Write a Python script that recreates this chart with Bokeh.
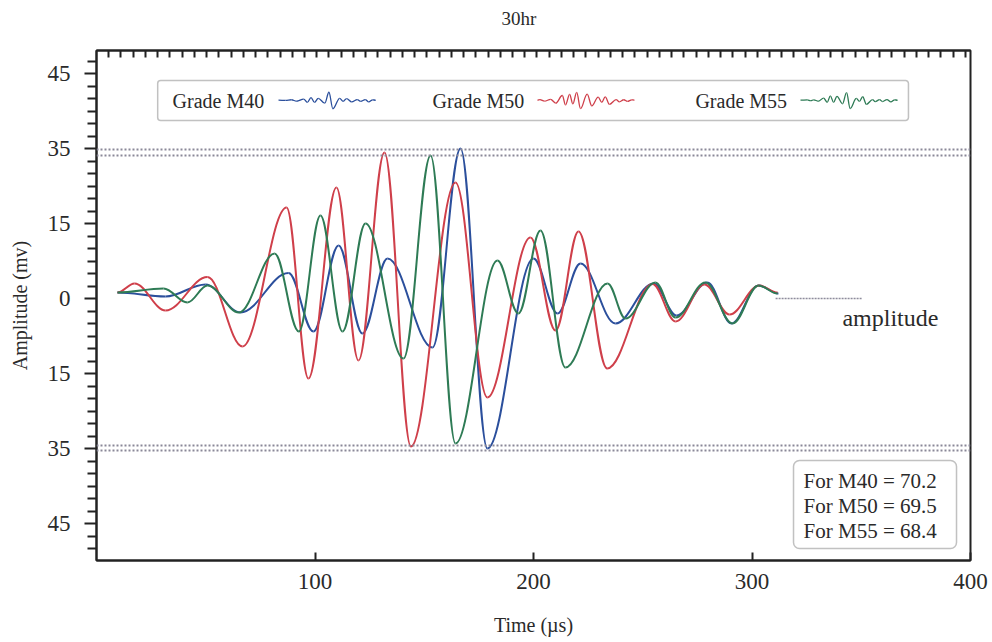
import numpy as np
from bokeh.plotting import figure
from bokeh.models import Range1d, LinearAxis, FixedTicker, Span, BoxAnnotation, Label
from bokeh.embed import file_html
from bokeh.resources import INLINE

# ---- data (time in µs, amplitude in axis units) ----
time_m40 = [9.6, 31.6, 49.9, 65.9, 87.9, 99.3, 110.8, 121.7, 133.2, 153.8, 166.6, 178.9,
            200.0, 211.0, 221.5, 237.5, 254.9, 265.4, 279.6, 290.6, 303.0, 312.1]
amp_m40 = [1.2, 0.4, 2.8, -2.8, 5.1, -6.6, 10.6, -7.0, 8.0, -9.8, 30.0, -30.0,
           8.0, -3.0, 7.0, -5.0, 3.0, -3.4, 3.2, -5.0, 2.6, 1.0]

time_m50 = [9.6, 17.4, 31.6, 50.8, 66.8, 87.0, 97.0, 109.8, 119.9, 131.8, 143.9, 164.3,
            178.9, 198.6, 210.1, 220.6, 233.7, 254.5, 265.0, 278.3, 289.7, 303.4, 311.7]
amp_m50 = [1.2, 3.0, -2.4, 4.3, -9.6, 18.2, -16.0, 22.2, -12.4, 29.2, -29.6, 23.2,
           -19.8, 12.2, -6.4, 13.4, -14.0, 2.9, -4.6, 2.8, -3.2, 2.6, 1.2]

time_m55 = [9.6, 30.7, 41.6, 50.8, 65.2, 81.5, 92.6, 102.5, 112.6, 123.1, 140.5, 152.9,
            164.3, 183.5, 193.1, 203.2, 214.6, 233.9, 242.1, 255.8, 265.0, 278.7, 291.1,
            303.0, 311.7]
amp_m55 = [1.2, 2.0, -0.8, 2.6, -2.8, 9.0, -6.6, 16.6, -6.6, 15.0, -12.0, 28.6,
           -29.0, 7.6, -3.0, 13.6, -13.8, 3.0, -4.0, 3.2, -3.8, 3.2, -5.0, 2.6, 1.0]

series_names = ["Grade M40", "Grade M50", "Grade M55"]
series_grades = ["M40", "M50", "M55"]
amplitude_values = [70.2, 69.5, 68.4]

y_tick_values = [-45, -30, -15, 0, 15, 30, 45]
y_tick_labels = ["45", "35", "15", "0", "15", "35", "45"]
x_tick_values = [100, 200, 300, 400]
threshold_levels = [29.8, 28.6, -29.4, -30.4]
chart_title = "30hr"

# ---- styling ----
FONT = "Liberation Serif"
TXT = "#2a2a2a"
colors = ["#2b4f9c", "#cf3f4a", "#2e7b55"]


def bez(xs, ys, sx=1.0, sy=1.0, ox=0.0, oy=0.0):
    x = np.asarray(xs, dtype=float) * sx + ox
    y = np.asarray(ys, dtype=float) * sy + oy
    x0, x1 = x[:-1], x[1:]
    y0, y1 = y[:-1], y[1:]
    d = (x1 - x0) * 0.364
    return dict(x0=x0, y0=y0, x1=x1, y1=y1, cx0=x0 + d, cy0=y0, cx1=x1 - d, cy1=y1)


p = figure(width=992, height=642, output_backend="svg", toolbar_location=None,
           x_range=Range1d(0, 400), y_range=Range1d(-52.4, 49.6),
           min_border_left=96, min_border_right=22, min_border_top=50,
           min_border_bottom=82, x_axis_location=None, y_axis_location=None)
p.grid.visible = False
p.outline_line_color = "#222222"
p.outline_line_width = 2
p.background_fill_color = "white"
p.border_fill_color = "white"

p.title.text = chart_title + "\n"
p.title.align = "left"
p.title.offset = 405
p.title.text_font = FONT
p.title.text_font_style = "normal"
p.title.text_font_size = "19px"
p.title.text_color = TXT
p.title.standoff = 2

# left axis
minor_y = [v for v in np.arange(-52.5, 50.0, 2.5) if v not in y_tick_values]
yax = LinearAxis(ticker=FixedTicker(ticks=y_tick_values, minor_ticks=minor_y))
yax.major_label_overrides = {v: l for v, l in zip(y_tick_values, y_tick_labels)}
yax.axis_label = "Amplitude (mv)"
yax.major_tick_out = 12
yax.major_tick_in = 0
yax.minor_tick_out = 9
yax.minor_tick_in = 0
yax.major_tick_line_width = 2
yax.minor_tick_line_width = 2
yax.minor_tick_line_color = "#222222"
p.add_layout(yax, "left")

# bottom axis
xax = LinearAxis(ticker=FixedTicker(ticks=x_tick_values, minor_ticks=[]))
xax.axis_label = "Time (µs)"
xax.major_tick_in = 8
xax.major_tick_out = 0
xax.minor_tick_line_color = None
xax.major_tick_line_width = 2
p.add_layout(xax, "below")

for ax in [yax, xax]:
    ax.axis_line_width = 2
    ax.axis_line_color = "#222222"
    ax.major_tick_line_color = "#222222"
    ax.major_label_text_font = FONT
    ax.major_label_text_font_size = "23px"
    ax.major_label_text_color = TXT
    ax.axis_label_text_font = FONT
    ax.axis_label_text_font_size = "20px"
    ax.axis_label_text_font_style = "normal"
    ax.axis_label_text_color = TXT
yax.major_label_standoff = 14
yax.axis_label_standoff = 14
xax.major_label_standoff = 13
xax.axis_label_standoff = 22

# top axis (ticks only, no labels)
top_ticks = list(np.arange(5.6, 400, 5.6))
tax = LinearAxis(ticker=FixedTicker(ticks=[], minor_ticks=top_ticks))
tax.minor_tick_in = 7
tax.minor_tick_out = 0
tax.minor_tick_line_width = 2
tax.minor_tick_line_color = "#222222"
tax.major_tick_line_color = None
tax.major_tick_in = 0
tax.major_tick_out = 0
tax.major_label_standoff = 0
tax.axis_line_width = 2
tax.axis_line_color = "#222222"
p.add_layout(tax, "above")

# threshold dotted lines
for lv in threshold_levels:
    p.add_layout(Span(location=lv, dimension="width", line_color="#8a8898",
                      line_width=2, line_dash="2 2"))

# waveforms
for t, a, c in zip([time_m40, time_m50, time_m55], [amp_m40, amp_m50, amp_m55], colors):
    p.bezier(**bez(t, a), line_color=c, line_width=2)

# amplitude annotation
p.line(x=[310.8, 350.6], y=[0, 0], line_color="#8e8c9c", line_width=1.5, line_dash="2 1")
p.add_layout(Label(x=341.4, y=-3.8, text="amplitude", text_font=FONT,
                   text_font_size="24px", text_color=TXT, text_baseline="middle"))

# legend box with mini waveforms
p.add_layout(BoxAnnotation(left=28, right=371.6, top=43.6, bottom=35.6,
                           fill_color="white", fill_alpha=1.0, line_color="#333333",
                           line_width=1.5, border_radius=3, level="underlay"))
legend_text_x = [34.8, 153.8, 274.1]
legend_wave_x = [83.3, 201.8, 322.2]
for name, tx, wx, t, a, c in zip(series_names, legend_text_x, legend_wave_x,
                                 [time_m40, time_m50, time_m55],
                                 [amp_m40, amp_m50, amp_m55], colors):
    p.add_layout(Label(x=tx, y=39.6, text=name, text_font=FONT, text_font_size="20px",
                       text_color=TXT, text_baseline="middle"))
    sx = 0.147
    p.bezier(**bez(t, a, sx=sx, sy=0.055, ox=wx - t[0] * sx, oy=39.6),
             line_color=c, line_width=1.3)

# amplitude values box
p.add_layout(BoxAnnotation(left=319, right=393.6, top=-32.4, bottom=-50.0,
                           fill_color="white", fill_alpha=1.0, line_color="#333333",
                           line_width=1.5, border_radius=6, level="underlay"))
for i, (g, v) in enumerate(zip(series_grades, amplitude_values)):
    p.add_layout(Label(x=323.6, y=-36.4 - 5.0 * i, text=f"For {g} = {v}", text_font=FONT,
                       text_font_size="21px", text_color=TXT, text_baseline="middle"))

open("out.html", "w").write(file_html(p, INLINE))
